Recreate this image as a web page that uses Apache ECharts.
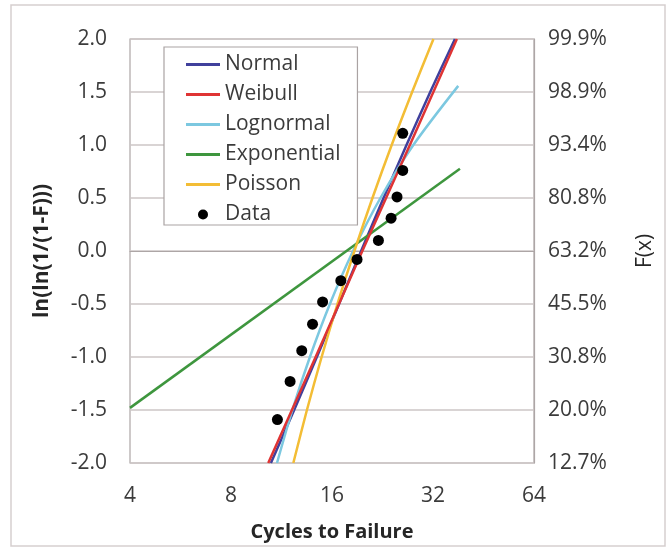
<!DOCTYPE html>
<html>
<head>
<meta charset="utf-8">
<script src="https://cdn.jsdelivr.net/npm/echarts@6/dist/echarts.min.js"></script>
<style>
  html, body { margin: 0; padding: 0; background: #ffffff; }
  #chart { width: 668px; height: 547px; }
</style>
</head>
<body>
<div id="chart"></div>
<script>
// Observed failures: cycles to failure and the plotted ln(ln(1/(1-F))) value
const cycles = [11, 12, 13, 14, 15, 17, 19, 22, 24, 25, 26, 26];
const lnlnF = [-1.59, -1.23, -0.94, -0.69, -0.48, -0.28, -0.08, 0.10, 0.31, 0.51, 0.76, 1.11];

// Fitted distribution curves, [cycles, ln(ln(1/(1-F)))]
const normalCurve = [[10.52, -2], [12.34, -1.5], [14.42, -1], [16.79, -0.5], [19.54, 0], [22.79, 0.5], [26.68, 1], [31.4, 1.5], [37.2, 2]];
const weibullCurve = [[10.33, -2], [14.3, -1], [19.7, 0], [27.3, 1], [37.7, 2]];
const lognormalCurve = [[10.97, -2], [12.19, -1.5], [13.75, -1], [15.77, -0.5], [18.49, 0], [22.31, 0.5], [27.96, 1], [38.05, 1.558]];
const exponentialCurve = [[4, -1.48], [38.5, 0.775]];
const poissonCurve = [[12.27, -2], [13.47, -1.5], [14.9, -1], [16.61, -0.5], [18.66, 0], [21.12, 0.5], [24.1, 1], [27.73, 1.5], [32.1, 2]];

// Axis labels
const leftTicks = ['-2.0', '-1.5', '-1.0', '-0.5', '0.0', '0.5', '1.0', '1.5', '2.0'];
const rightTicks = ['12.7%', '20.0%', '30.8%', '45.5%', '63.2%', '80.8%', '93.4%', '98.9%', '99.9%'];

const FONT = '"Open Sans"';
const FS = 21;
const labelColor = '#3b3b3b';
const gridColor = '#cdc6c6';
const lineIcon = 'path://M0,0 L34,0 L34,3 L0,3 Z';

function tickIndex(v) { return Math.round((v + 2) / 0.5); }

function lineSeries(name, data, color, z, smooth) {
  return {
    name: name,
    type: 'line',
    data: data,
    showSymbol: false,
    symbol: 'none',
    smooth: smooth,
    z: z,
    lineStyle: { color: color, width: 2.5 },
    itemStyle: { color: color }
  };
}

const chart = echarts.init(document.getElementById('chart'), null, { renderer: 'canvas' });

chart.setOption({
  animation: false,
  backgroundColor: '#ffffff',
  textStyle: { fontFamily: FONT },
  grid: {
    left: 130, right: 134, top: 39, bottom: 83,
    show: true, borderColor: '#ada6a6', borderWidth: 1.2, backgroundColor: 'transparent'
  },
  graphic: [{
    type: 'rect',
    shape: { x: 11, y: 5, width: 654, height: 541 },
    style: { fill: 'none', stroke: '#d6cfcf', lineWidth: 1.5 },
    silent: true,
    z: -1
  }],
  legend: {
    orient: 'vertical',
    left: 164, top: 47,
    padding: [7, 17, 0, 22],
    itemWidth: 34, itemHeight: 10,
    itemGap: 9,
    backgroundColor: '#ffffff',
    borderColor: '#aaa3a3', borderWidth: 1.2,
    textStyle: { fontFamily: FONT, fontSize: FS, color: labelColor, lineHeight: 21 },
    data: [
      { name: 'Normal', icon: lineIcon },
      { name: 'Weibull', icon: lineIcon },
      { name: 'Lognormal', icon: lineIcon },
      { name: 'Exponential', icon: lineIcon },
      { name: 'Poisson', icon: lineIcon },
      { name: 'Data', icon: 'circle' }
    ]
  },
  xAxis: {
    type: 'log', logBase: 2, min: 4, max: 64,
    splitNumber: 4,
    name: 'Cycles to Failure', nameLocation: 'middle', nameGap: 59,
    nameTextStyle: { fontFamily: FONT, fontSize: 20, fontWeight: 'bold', color: '#262626' },
    axisLine: { show: true, lineStyle: { color: '#ada6a6', width: 1.2 } },
    axisTick: { show: false },
    splitLine: { show: false },
    minorTick: { show: false },
    axisLabel: { fontFamily: FONT, fontSize: FS, color: labelColor, margin: 23 }
  },
  yAxis: [{
    type: 'value', min: -2, max: 2, interval: 0.5,
    position: 'left',
    name: 'ln(ln(1/(1-F)))', nameLocation: 'middle', nameGap: 77, nameRotate: 90,
    nameTextStyle: { fontFamily: FONT, fontSize: 21, fontWeight: 'bold', color: '#262626' },
    axisLine: { show: false },
    axisTick: { show: false },
    splitLine: { show: true, lineStyle: { color: gridColor, width: 1.5 } },
    axisLabel: {
      fontFamily: FONT, fontSize: FS, color: labelColor, margin: 23,
      formatter: function (v) { return leftTicks[tickIndex(v)]; }
    }
  }, {
    type: 'value', min: -2, max: 2, interval: 0.5,
    position: 'right',
    name: 'F(x)', nameLocation: 'middle', nameGap: 101, nameRotate: 90,
    nameTextStyle: { fontFamily: FONT, fontSize: FS, color: '#262626' },
    axisLine: { show: true, lineStyle: { color: '#ada6a6', width: 1.2 } },
    axisTick: { show: false },
    splitLine: { show: false },
    axisLabel: {
      fontFamily: FONT, fontSize: FS, color: labelColor, margin: 14,
      formatter: function (v) { return rightTicks[tickIndex(v)]; }
    }
  }],
  series: [
    lineSeries('Normal', normalCurve, '#40409c', 3, 0.3),
    lineSeries('Weibull', weibullCurve, '#df3434', 4, false),
    lineSeries('Lognormal', lognormalCurve, '#7cc8e0', 3, 0.3),
    lineSeries('Exponential', exponentialCurve, '#3e963e', 3, false),
    lineSeries('Poisson', poissonCurve, '#f3bd35', 3, 0.3),
    {
      name: 'Data',
      type: 'scatter',
      data: cycles.map(function (c, i) { return [c, lnlnF[i]]; }),
      symbol: 'circle',
      symbolSize: 11,
      z: 6,
      itemStyle: { color: '#000000', opacity: 1 }
    }
  ]
});
</script>
</body>
</html>
